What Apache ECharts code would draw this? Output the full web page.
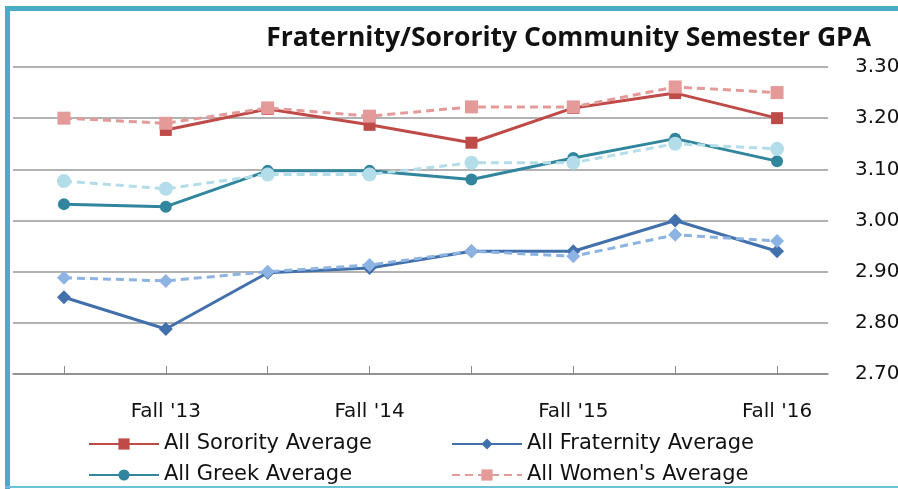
<!DOCTYPE html>
<html>
<head>
<meta charset="utf-8">
<script src="https://cdn.jsdelivr.net/npm/echarts@6/dist/echarts.min.js"></script>
<style>
  html, body { margin: 0; padding: 0; background: #fff; }
  #chart { width: 898px; height: 489px; }
</style>
</head>
<body>
<div id="chart"></div>
<script>
// 学期
const semesters = ["Spring '13", "Fall '13", "Spring '14", "Fall '14", "Spring '15", "Fall '15", "Spring '16", "Fall '16"];
const yTicks = [2.7, 2.8, 2.9, 3.0, 3.1, 3.2, 3.3];

// 各组平均 GPA
const sorority = [null, 3.177, 3.218, 3.187, 3.152, 3.220, 3.249, 3.200];
const fraternity = [2.850, 2.788, 2.898, 2.907, 2.940, 2.940, 3.000, 2.940];
const greek = [3.032, 3.027, 3.097, 3.097, 3.080, 3.122, 3.160, 3.116];
const women = [3.200, 3.190, 3.220, 3.204, 3.222, 3.222, 3.261, 3.250];
const men = [2.888, 2.882, 2.900, 2.913, 2.940, 2.930, 2.972, 2.960];
const undergrad = [3.077, 3.062, 3.090, 3.090, 3.113, 3.113, 3.150, 3.140];

const font = "'DejaVu Sans', sans-serif";
const titleFont = "'Open Sans', sans-serif";

const chart = echarts.init(document.getElementById("chart"));

const lineSeries = (name, data, color, symbol, size, dashed) => ({
  type: "line",
  name,
  data,
  symbol,
  symbolSize: size,
  connectNulls: false,
  lineStyle: { color, width: 3, type: dashed ? [8, 5] : "solid" },
  itemStyle: { color },
  z: dashed ? 3 : 2,
});

// 图例: 两列
const legendCol = (names, left) => ({
  data: names,
  orient: "vertical",
  left,
  top: 433,
  height: 80,
  padding: 0,
  itemWidth: 70,
  itemHeight: 14,
  itemGap: 9,
  textStyle: { fontFamily: font, fontSize: 21, lineHeight: 22, color: "#111" },
});

const option = {
  animation: false,
  backgroundColor: "#fff",
  title: {
    text: "Fraternity/Sorority Community Semester GPA",
    right: 22,
    top: 20,
    textStyle: { fontFamily: titleFont, fontSize: 26.5, fontWeight: "bold", color: "#111" },
  },
  legend: [
    legendCol(["All Sorority Average", "All Greek Average"], 88),
    legendCol(["All Fraternity Average", "All Women's Average"], 451),
  ],
  grid: { left: 13, right: 70, top: 67, bottom: 115, outerBoundsMode: "none" },
  xAxis: {
    type: "category",
    data: semesters,
    boundaryGap: true,
    axisLine: { lineStyle: { color: "#888", width: 1.5 } },
    axisTick: { show: true, inside: true, length: 8, alignWithLabel: true, interval: 0, lineStyle: { color: "#888" } },
    axisLabel: {
      interval: (i) => i % 2 === 1,
      margin: 28,
      fontFamily: font,
      fontSize: 20,
      color: "#111",
    },
  },
  yAxis: {
    type: "value",
    position: "right",
    min: yTicks[0],
    max: yTicks[yTicks.length - 1],
    interval: 0.1,
    axisLine: { show: false },
    axisTick: { show: false },
    splitLine: { lineStyle: { color: "#999", width: 1.5 } },
    axisLabel: {
      margin: 27,
      formatter: (v) => v.toFixed(2),
      fontFamily: font,
      fontSize: 20,
      color: "#111",
    },
  },
  graphic: [
    // 外边框
    { type: "rect", shape: { x: 5, y: 6, width: 5, height: 483 }, style: { fill: "#4bacc6" }, z: 100 },
    { type: "rect", shape: { x: 5, y: 6, width: 893, height: 5 }, style: { fill: "#4bacc6" }, z: 100 },
    { type: "rect", shape: { x: 5, y: 486, width: 893, height: 2 }, style: { fill: "#6cc0d8" }, z: 100 },
  ],
  series: [
    lineSeries("All Sorority Average", sorority, "#be4b48", "rect", 12, false),
    lineSeries("All Fraternity Average", fraternity, "#4170ac", "diamond", 14, false),
    lineSeries("All Greek Average", greek, "#31859c", "circle", 12, false),
    lineSeries("All Women's Average", women, "#e39a99", "rect", 13, true),
    lineSeries("All Men's Average", men, "#8db3e2", "diamond", 14, true),
    lineSeries("All Undergraduate Average", undergrad, "#b3dde8", "circle", 14, true),
  ],
};

chart.setOption(option);
</script>
</body>
</html>
